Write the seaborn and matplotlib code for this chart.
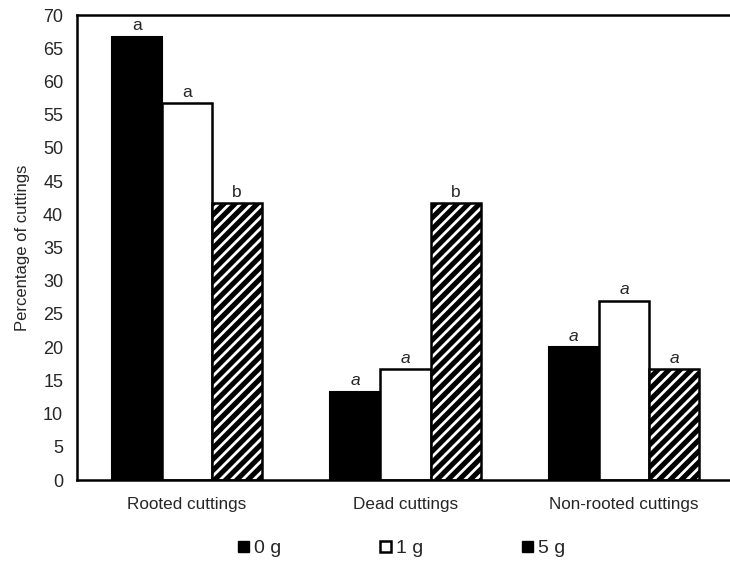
import matplotlib
matplotlib.use("Agg")
import matplotlib.pyplot as plt
import seaborn as sns
import pandas as pd
from matplotlib.patches import Patch

categories = ["Rooted cuttings", "Dead cuttings", "Non-rooted cuttings"]
doses = ["0 g", "1 g", "5 g"]
values_0g = [66.7, 13.3, 20.0]
values_1g = [56.7, 16.7, 27.0]
values_5g = [41.7, 41.7, 16.7]
letters_0g = ["a", "a", "a"]
letters_1g = ["a", "a", "a"]
letters_5g = ["b", "b", "a"]
italic_0g = [False, True, True]
italic_1g = [False, True, True]
italic_5g = [False, False, True]
yticks = list(range(0, 75, 5))

rows = []
for d, vals in zip(doses, [values_0g, values_1g, values_5g]):
    for c, v in zip(categories, vals):
        rows.append({"category": c, "dose": d, "value": v})
df = pd.DataFrame(rows)

sns.set_style("white")
plt.rcParams["font.family"] = ["Liberation Sans", "DejaVu Sans"]
plt.rcParams["hatch.linewidth"] = 2.0

fig = plt.figure(figsize=(7.3, 5.73), dpi=100)
ax = fig.add_axes([0.1055, 0.1623, 0.8945, 0.8115])

sns.barplot(data=df, x="category", y="value", hue="dose", order=categories,
            hue_order=doses, width=0.69, gap=0, ax=ax, legend=False,
            errorbar=None, saturation=1)

styles = [
    dict(facecolor="black", hatch=None, lw=1.5),
    dict(facecolor="white", hatch=None, lw=1.8),
    dict(facecolor="black", hatch="///", lw=1.8),
]
letter_sets = [letters_0g, letters_1g, letters_5g]
italic_sets = [italic_0g, italic_1g, italic_5g]
for cont, st, lets, its in zip(ax.containers, styles, letter_sets, italic_sets):
    for bar, let, it in zip(cont, lets, its):
        bar.set_facecolor(st["facecolor"])
        bar.set_edgecolor("black")
        bar.set_linewidth(st["lw"])
        if st["hatch"]:
            bar.set_hatch(st["hatch"])
            bar._hatch_color = (1.0, 1.0, 1.0, 1.0)
        x = bar.get_x() + bar.get_width() / 2
        ax.annotate(let, (x, bar.get_height()), xytext=(0, 2.5),
                    textcoords="offset points", ha="center", va="bottom",
                    fontsize=12.5, style="italic" if it else "normal")

ax.set_ylim(0, 70)
ax.set_xlim(-0.503, 2.485)
ax.set_yticks(yticks)
ax.set_yticklabels([str(t) for t in yticks])
ax.tick_params(axis="y", length=0, pad=10, labelsize=13)
ax.tick_params(axis="x", length=0, pad=12, labelsize=12.3)
ax.set_xlabel("")
ax.set_ylabel("Percentage of cuttings", fontsize=12, labelpad=9)
for side in ["left", "top", "bottom"]:
    ax.spines[side].set_visible(True)
    ax.spines[side].set_linewidth(1.8)
    ax.spines[side].set_color("black")
ax.spines["right"].set_visible(False)

handles = [
    Patch(facecolor="black", edgecolor="black", label=doses[0]),
    Patch(facecolor="white", edgecolor="black", linewidth=1.8, label=doses[1]),
    Patch(facecolor="black", edgecolor="black", linewidth=1.0, label=doses[2]),
]
leg = fig.legend(handles=handles, loc="center", bbox_to_anchor=(0.55, 0.042), ncol=3,
                 frameon=False, handlelength=0.55, handleheight=0.55, handletextpad=0.25,
                 columnspacing=5.1, fontsize=14)

fig.savefig("out.png", dpi=100)
